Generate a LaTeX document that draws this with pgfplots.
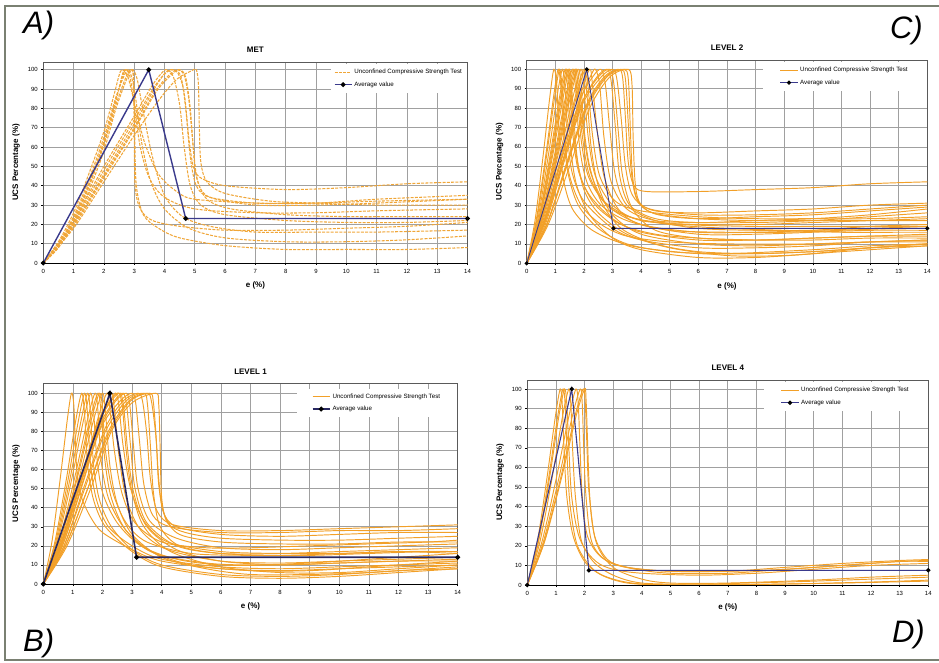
\documentclass[border=0pt]{standalone}
\usepackage{fontspec}
\setmainfont{Liberation Sans}
\usepackage{pgfplots}
\pgfplotsset{compat=1.18}
\definecolor{ucsorange}{HTML}{F2A028}
\definecolor{ucsdash}{HTML}{F0A638}
\definecolor{avgblue}{HTML}{3A3A8C}
\definecolor{gridgray}{HTML}{A0A0A0}
\definecolor{framegray}{HTML}{5A5A5A}
\definecolor{outerframe}{HTML}{7A8072}

\pgfplotsset{
  ucs/.style={
    scale only axis, anchor=south west,
    xmin=0, xmax=14, ymin=0,
    xtick={0,1,...,14}, ytick={0,10,...,100},
    xtick pos=left, ytick pos=left,
    tick align=outside, major tick length=2pt,
    tick style={black, line width=0.5pt},
    grid=major, major grid style={gridgray, line width=0.65pt},
    axis line style={framegray, line width=0.8pt},
    ticklabel style={font=\fontsize{6}{6.5}\selectfont},
    xticklabel style={yshift=-0.5pt},
    /pgf/number format/assume math mode=true,
    xlabel={e (\%)}, ylabel={UCS Percentage (\%)},
    label style={font=\bfseries\fontsize{8}{9}\selectfont},
    xlabel style={yshift=-2pt},
    ylabel style={yshift=1pt},
    title style={font=\bfseries\fontsize{8}{9}\selectfont, yshift=-0.5pt},
    legend style={draw=none, fill=white, font=\fontsize{6.2}{7}\selectfont,
      inner xsep=17pt, inner ysep=3pt, row sep=2.5pt,
      at={(0.999,0.99)}, anchor=north east},
    legend cell align=left,
    clip mode=individual,
  },
  ucsline/.style={ucsorange, line width=0.95pt, smooth, tension=0.5},
  ucsdashed/.style={ucsdash, line width=1.05pt, dash pattern=on 3pt off 1.3pt, smooth, tension=0.5},
  avgline/.style={avgblue, line width=1.4pt, mark=*, mark size=1.6pt,
    mark options={black, fill=black, solid}},
}

\begin{document}
\begin{tikzpicture}
\useasboundingbox (0pt,0pt) rectangle (939pt,662pt);
\draw[outerframe, line width=1.3pt] (939pt,656pt) -- (5pt,656pt) -- (5pt,2pt) -- (939pt,2pt);

% ---------------- A) MET ----------------
\begin{axis}[ucs, at={(43.3pt,399pt)}, width=424.2pt, height=201pt, ymax=104,
  title={MET}, legend style={inner xsep=3pt}]
\addplot[ucsdashed, legend image post style={ucsdash, line width=1.3pt}] coordinates {(0,0)(0.5,9)(1,22)(1.5,40)(2,62)(2.4,84)(2.6,97)(2.7,100)(2.85,97)(3.0,82)(3.2,60)(3.5,44)(4,34)(5,28)(7,26)(9,26)(11,27)(14,28)};
\addlegendentry{Unconfined Compressive Strength Test}
\addplot[ucsdashed, forget plot] coordinates {(0,0)(0.5,10)(1,24)(1.5,43)(2,65)(2.4,86)(2.7,98)(2.85,100)(2.97,97)(3.0,70)(3.03,40)(3.2,28)(3.6,22)(4.5,19)(6,17)(8,17)(10,18)(12,19)(14,21)};
\addplot[ucsdashed, forget plot] coordinates {(0,0)(0.5,8)(1,21)(1.5,39)(2,61)(2.4,82)(2.75,97)(2.9,100)(2.98,96)(3.02,65)(3.07,40)(3.3,25)(3.8,18)(4.5,13)(6,9)(8,7)(10,7)(12,7)(14,8)};
\addplot[ucsdashed, forget plot] coordinates {(0,0)(0.5,11)(1,26)(1.5,46)(2,68)(2.35,88)(2.5,97)(2.6,100)(2.8,96)(3.05,80)(3.35,62)(3.8,46)(4.4,37)(5,33)(7,31)(9,31)(11,32)(14,33)};
\addplot[ucsdashed, forget plot] coordinates {(0,0)(0.5,8)(1,20)(1.5,37)(2,58)(2.4,80)(2.8,97)(2.95,100)(3.1,95)(3.3,78)(3.6,55)(4,35)(4.6,24)(5.5,19)(7,16)(9,16)(11,16)(14,17)};
\addplot[ucsdashed, forget plot] coordinates {(0,0)(0.5,9)(1,23)(1.5,41)(2,63)(2.4,85)(2.65,98)(2.75,100)(2.9,97)(3.05,85)(3.25,62)(3.55,42)(4,28)(4.8,18)(6,13)(8,11)(10,11)(12,12)(14,14)};
\addplot[ucsdashed, forget plot] coordinates {(0,0)(1,20)(2,46)(3,72)(3.7,91)(4.0,98)(4.2,100)(4.45,98)(4.65,88)(4.8,65)(4.95,50)(5.2,44)(6,40)(8,38)(10,39)(12,41)(14,42)};
\addplot[ucsdashed, forget plot] coordinates {(0,0)(1,21)(2,48)(3,74)(3.7,92)(4.1,99)(4.35,100)(4.55,96)(4.7,80)(4.85,55)(5.05,40)(5.5,34)(7,31)(9,31)(11,33)(14,35)};
\addplot[ucsdashed, forget plot] coordinates {(0,0)(1,19)(2,44)(3,69)(3.7,88)(4.2,97)(4.5,100)(4.7,96)(4.85,80)(4.95,60)(5.1,42)(5.5,34)(7,30)(9,30)(11,31)(14,33)};
\addplot[ucsdashed, forget plot] coordinates {(0,0)(1,22)(2,50)(3,76)(3.6,92)(3.95,99)(4.1,100)(4.3,96)(4.5,82)(4.65,60)(4.85,40)(5.2,30)(6,25)(8,22)(10,21)(12,21)(14,22)};
\addplot[ucsdashed, forget plot] coordinates {(0,0)(1,18)(2,42)(3,66)(3.8,84)(4.4,95)(4.9,99.5)(5.05,100)(5.12,92)(5.15,70)(5.2,52)(5.4,42)(6,36)(7.5,32)(9,31)(11,30)(14,30)};
\addplot[ucsdashed, forget plot] coordinates {(0,0)(1,20)(2,45)(3,70)(3.7,89)(4.2,98)(4.45,100)(4.65,97)(4.8,85)(4.92,65)(5.05,45)(5.4,33)(6.2,28)(8,25)(10,24)(12,24)(14,24)};
\addplot[avgline] coordinates {(0,0)(3.48,100)(4.7,23)(14,23)};
\addlegendentry{Average value}
\draw[black, line width=0.9pt] (rel axis cs:0,0) -- (rel axis cs:1,0);
\end{axis}

% ---------------- C) LEVEL 2 ----------------
\begin{axis}[ucs, at={(526.7pt,398.7pt)}, width=400.6pt, height=203.3pt, ymax=104.8,
  title={LEVEL 2}]
\addplot[ucsline, legend image post style={ucsorange, line width=1.3pt}] coordinates {(0,0)(0.29,22)(0.57,55)(0.81,86)(0.95,100)(1.05,92)(1.15,62)(1.3,42)(1.6,28)(2.2,18)(3,12)(4,8)(6,5)(8,5)(10,6)(12,8)(14,9)};
\addlegendentry{Unconfined Compressive Strength Test}
\addplot[ucsline, forget plot] coordinates {(0,0)(0.33,22)(0.66,55)(0.94,86)(1.1,100)(1.2,90)(1.3,65)(1.45,46)(1.8,30)(2.5,18)(3.5,10)(5,6)(7,5)(10,7)(12,9)(14,10)};
\addplot[ucsline, forget plot] coordinates {(0,0)(0.35,22)(0.69,55)(0.98,86)(1.15,100)(1.25,88)(1.35,62)(1.5,45)(1.9,30)(2.6,20)(3.5,14)(5,11)(7,10)(10,10)(12,11)(14,11)};
\addplot[ucsline, forget plot] coordinates {(0,0)(0.38,22)(0.75,55)(1.06,86)(1.25,100)(1.35,88)(1.45,62)(1.6,46)(2,32)(3,18)(4,12)(6,8)(8,8)(10,9)(12,11)(14,12)};
\addplot[ucsline, forget plot] coordinates {(0,0)(0.41,22)(0.81,55)(1.15,86)(1.35,100)(1.45,86)(1.55,58)(1.75,40)(2.2,25)(3,13)(4,7)(6,3)(8,3)(10,5)(12,8)(14,10)};
\addplot[ucsline, forget plot] coordinates {(0,0)(0.42,22)(0.84,55)(1.19,86)(1.4,100)(1.5,90)(1.6,68)(1.8,48)(2.2,35)(3,23)(4,16)(6,12)(8,12)(10,13)(12,14)(14,15)};
\addplot[ucsline, forget plot] coordinates {(0,0)(0.44,22)(0.87,55)(1.23,86)(1.45,100)(1.55,88)(1.68,62)(1.9,44)(2.4,30)(3.3,20)(4.5,15)(6,13)(8,12)(10,12)(12,13)(14,13)};
\addplot[ucsline, forget plot] coordinates {(0,0)(0.45,22)(0.9,55)(1.28,86)(1.5,100)(1.6,85)(1.75,56)(2,38)(2.5,26)(3.5,15)(5,8)(7,4)(9,4)(11,6)(13,8)(14,9)};
\addplot[ucsline, forget plot] coordinates {(0,0)(0.48,22)(0.96,55)(1.36,86)(1.6,100)(1.72,88)(1.85,60)(2.1,42)(2.6,30)(3.5,22)(5,17)(7,16)(9,16)(11,17)(13,18)(14,18)};
\addplot[ucsline, forget plot] coordinates {(0,0)(0.5,22)(0.99,55)(1.4,86)(1.65,100)(1.75,90)(1.9,64)(2.15,45)(2.7,32)(3.6,24)(5,20)(7,18)(9,17)(11,16)(13,16)(14,16)};
\addplot[ucsline, forget plot] coordinates {(0,0)(0.51,22)(1.02,55)(1.45,86)(1.7,100)(1.8,90)(1.95,65)(2.2,45)(2.8,30)(4,20)(6,15)(8,15)(10,16)(12,17)(14,17)};
\addplot[ucsline, forget plot] coordinates {(0,0)(0.53,22)(1.05,55)(1.49,86)(1.75,100)(1.85,90)(2.0,66)(2.25,46)(2.8,30)(3.8,23)(5.5,20)(8,19)(10,19)(12,19)(14,19)};
\addplot[ucsline, forget plot] coordinates {(0,0)(0.54,22)(1.08,55)(1.53,86)(1.8,100)(1.9,92)(2.0,70)(2.2,50)(2.6,32)(3.3,18)(4.5,10)(6,6)(8,5)(10,6)(12,8)(14,10)};
\addplot[ucsline, forget plot] coordinates {(0,0)(0.57,22)(1.14,55)(1.62,86)(1.9,100)(2.0,90)(2.15,65)(2.4,45)(3,30)(4,22)(6,20)(8,20)(10,21)(12,22)(14,23)};
\addplot[ucsline, forget plot] coordinates {(0,0)(0.6,22)(1.2,55)(1.7,86)(2.0,100)(2.1,88)(2.25,60)(2.5,40)(3,25)(4,15)(6,10)(8,9)(10,10)(12,11)(14,12)};
\addplot[ucsline, forget plot] coordinates {(0,0)(0.62,22)(1.23,55)(1.74,86)(2.05,100)(2.15,90)(2.3,66)(2.55,45)(3.1,32)(4,27)(6,24)(8,23)(10,23)(12,23)(14,24)};
\addplot[ucsline, forget plot] coordinates {(0,0)(0.66,22)(1.32,55)(1.87,86)(2.2,100)(2.3,92)(2.45,70)(2.7,45)(3.2,28)(4,20)(6,16)(8,16)(10,17)(12,19)(14,20)};
\addplot[ucsline, forget plot] coordinates {(0,0)(0.65,22)(1.3,55)(1.9,85)(2.25,97)(2.4,100)(2.55,92)(2.7,65)(2.95,42)(3.5,28)(4.5,22)(6,21)(8,21)(10,22)(12,24)(14,26)};
\addplot[ucsline, forget plot] coordinates {(0,0)(0.62,22)(1.25,55)(1.85,84)(2.3,96)(2.6,100)(2.75,92)(2.9,70)(3.1,45)(3.5,30)(4.5,22)(6,18)(8,17)(10,17)(12,18)(14,19)};
\addplot[ucsline, forget plot] coordinates {(0,0)(0.65,22)(1.3,54)(1.95,83)(2.45,96)(2.8,100)(2.95,94)(3.1,70)(3.25,45)(3.6,30)(4.5,23)(6,21)(8,22)(10,23)(12,25)(14,28)};
\addplot[ucsline, forget plot] coordinates {(0,0)(0.6,20)(1.25,52)(1.9,82)(2.5,96)(2.9,100)(3.05,92)(3.2,68)(3.35,45)(3.7,28)(4.5,17)(6,13)(8,12)(10,13)(12,14)(14,14)};
\addplot[ucsline, forget plot] coordinates {(0,0)(0.65,20)(1.3,52)(1.95,82)(2.6,96)(3.0,100)(3.15,95)(3.3,75)(3.45,50)(3.7,35)(4.3,28)(6,25)(8,25)(10,26)(12,28)(14,30)};
\addplot[ucsline, forget plot] coordinates {(0,0)(0.7,20)(1.4,52)(2.1,82)(2.7,96)(3.2,100)(3.35,96)(3.45,75)(3.55,52)(3.75,40)(4.2,37)(6,37)(8,38)(10,39)(12,41)(14,42)};
\addplot[ucsline, forget plot] coordinates {(0,0)(0.7,20)(1.4,51)(2.1,81)(2.75,96)(3.3,100)(3.45,95)(3.55,72)(3.65,48)(3.85,33)(4.4,26)(6,23)(8,22)(10,22)(12,22)(14,22)};
\addplot[ucsline, forget plot] coordinates {(0,0)(0.7,20)(1.4,50)(2.1,80)(2.8,96)(3.4,100)(3.55,95)(3.62,70)(3.7,45)(3.9,32)(4.5,27)(6,26)(8,27)(10,28)(12,30)(14,31)};
\addplot[ucsline, forget plot] coordinates {(0,0)(0.75,20)(1.5,50)(2.2,80)(2.9,96)(3.55,100)(3.68,92)(3.72,65)(3.8,40)(4,30)(4.6,25)(6,23)(8,24)(10,25)(12,27)(14,29)};
\addplot[avgline, line width=0.9pt] coordinates {(0,0)(2.1,100)(3.03,18)(14,18)};
\addlegendentry{Average value}
\draw[black, line width=0.9pt] (rel axis cs:0,0) -- (rel axis cs:1,0);
\end{axis}

% ---------------- B) LEVEL 1 ----------------
\begin{axis}[ucs, at={(43.3pt,78pt)}, width=414.4pt, height=200.7pt, ymax=105.2,
  title={LEVEL 1}, legend style={inner xsep=15pt, at={(0.999,0.975)}}]
\addplot[ucsline, legend image post style={ucsorange, line width=1.3pt}] coordinates {(0,0)(0.29,22)(0.57,55)(0.81,86)(0.95,100)(1.03,94)(1.08,75)(1.15,56)(1.3,45)(1.6,35)(2,27)(3,18)(4,12)(6,8)(8,7)(10,8)(12,9)(14,10)};
\addlegendentry{Unconfined Compressive Strength Test}
\addplot[ucsline, forget plot] coordinates {(0,0)(0.39,22)(0.78,55)(1.1,86)(1.3,100)(1.4,88)(1.5,62)(1.7,44)(2.1,30)(3,17)(4,9)(6,4)(8,3)(10,4)(12,6)(14,8)};
\addplot[ucsline, forget plot] coordinates {(0,0)(0.42,22)(0.84,55)(1.19,86)(1.4,100)(1.5,88)(1.6,62)(1.8,44)(2.2,30)(3,20)(4,13)(6,9)(8,8)(10,9)(12,10)(14,11)};
\addplot[ucsline, forget plot] coordinates {(0,0)(0.45,22)(0.9,55)(1.28,86)(1.5,100)(1.6,88)(1.7,62)(1.9,44)(2.3,30)(3,18)(4,10)(6,5)(8,4)(10,5)(12,7)(14,8)};
\addplot[ucsline, forget plot] coordinates {(0,0)(0.48,22)(0.96,55)(1.36,86)(1.6,100)(1.7,90)(1.8,68)(2,48)(2.5,32)(3.3,20)(4.5,13)(6,10)(8,10)(10,11)(12,12)(14,13)};
\addplot[ucsline, forget plot] coordinates {(0,0)(0.53,22)(1.05,55)(1.49,86)(1.75,100)(1.85,90)(1.95,65)(2.2,45)(2.7,30)(3.5,18)(5,10)(7,7)(9,7)(11,9)(13,11)(14,12)};
\addplot[ucsline, forget plot] coordinates {(0,0)(0.56,22)(1.11,55)(1.57,86)(1.85,100)(1.95,90)(2.08,65)(2.3,45)(2.8,28)(3.8,16)(5.5,11)(7,10)(9,11)(11,13)(13,15)(14,16)};
\addplot[ucsline, forget plot] coordinates {(0,0)(0.57,22)(1.14,55)(1.62,86)(1.9,100)(2.0,92)(2.1,70)(2.35,48)(2.8,32)(3.5,22)(5,16)(7,15)(9,15)(11,16)(13,17)(14,17)};
\addplot[ucsline, forget plot] coordinates {(0,0)(0.6,22)(1.2,55)(1.7,86)(2.0,100)(2.1,90)(2.25,62)(2.5,42)(3,26)(4,14)(5.5,8)(7,5)(9,5)(11,6)(13,8)(14,9)};
\addplot[ucsline, forget plot] coordinates {(0,0)(0.65,22)(1.29,55)(1.83,86)(2.15,100)(2.25,92)(2.4,70)(2.65,48)(3.1,32)(4,22)(5.5,19)(7,19)(9,20)(11,21)(13,22)(14,23)};
\addplot[ucsline, forget plot] coordinates {(0,0)(0.69,22)(1.38,55)(1.96,86)(2.3,100)(2.4,92)(2.55,68)(2.8,45)(3.3,28)(4.2,18)(6,12)(8,11)(10,12)(12,13)(14,14)};
\addplot[ucsline, forget plot] coordinates {(0,0)(0.65,22)(1.3,55)(1.9,85)(2.3,97)(2.45,100)(2.55,94)(2.7,72)(2.95,50)(3.4,33)(4.2,22)(6,17)(8,16)(10,16)(12,17)(14,16)};
\addplot[ucsline, forget plot] coordinates {(0,0)(0.62,22)(1.25,55)(1.85,85)(2.3,97)(2.55,100)(2.67,93)(2.8,70)(3.0,48)(3.4,30)(4.3,17)(6,9)(8,6)(10,6)(12,8)(14,10)};
\addplot[ucsline, forget plot] coordinates {(0,0)(0.62,22)(1.25,55)(1.85,84)(2.3,96)(2.6,100)(2.72,92)(2.85,70)(3.05,48)(3.5,30)(4.5,18)(6,12)(8,10)(10,11)(12,12)(14,12)};
\addplot[ucsline, forget plot] coordinates {(0,0)(0.6,20)(1.25,53)(1.9,83)(2.4,96)(2.7,100)(2.82,93)(2.95,72)(3.1,50)(3.5,32)(4.5,20)(6,16)(8,16)(10,17)(12,18)(14,19)};
\addplot[ucsline, forget plot] coordinates {(0,0)(0.65,22)(1.3,54)(1.95,83)(2.45,96)(2.8,100)(2.92,94)(3.05,72)(3.2,50)(3.6,33)(4.5,24)(6,19)(8,18)(10,19)(12,20)(14,21)};
\addplot[ucsline, forget plot] coordinates {(0,0)(0.65,20)(1.3,52)(1.95,82)(2.6,96)(3.0,100)(3.12,95)(3.25,75)(3.4,52)(3.7,36)(4.3,30)(6,27)(8,27)(10,28)(12,28)(14,29)};
\addplot[ucsline, forget plot] coordinates {(0,0)(0.7,20)(1.4,52)(2.1,82)(2.7,96)(3.2,100)(3.35,96)(3.5,78)(3.62,55)(3.85,38)(4.4,31)(6,28)(8,28)(10,29)(12,30)(14,31)};
\addplot[ucsline, forget plot] coordinates {(0,0)(0.7,20)(1.4,50)(2.1,80)(2.8,96)(3.4,100)(3.52,94)(3.62,72)(3.72,48)(3.95,30)(4.6,20)(6,16)(8,15)(10,16)(12,17)(14,17)};
\addplot[ucsline, forget plot] coordinates {(0,0)(0.75,20)(1.5,50)(2.2,80)(2.9,96)(3.5,100)(3.65,96)(3.8,78)(3.9,55)(4.05,38)(4.5,30)(6,26)(8,25)(10,26)(12,27)(14,27)};
\addplot[ucsline, forget plot] coordinates {(0,0)(0.75,20)(1.5,50)(2.25,80)(2.95,96)(3.6,100)(3.72,95)(3.82,75)(3.9,52)(4.1,36)(4.6,26)(6,22)(8,21)(10,21)(12,22)(14,22)};
\addplot[ucsline, forget plot] coordinates {(0,0)(0.8,20)(1.6,50)(2.3,80)(3.0,95)(3.8,100)(3.9,94)(3.95,70)(4.0,45)(4.2,32)(4.8,27)(6,24)(8,23)(10,23)(12,24)(14,25)};
\addplot[avgline, avgblue!70!black, line width=1.6pt] coordinates {(0,0)(2.25,100)(3.15,14)(14,14)};
\addlegendentry{Average value}
\draw[black, line width=0.9pt] (rel axis cs:0,0) -- (rel axis cs:1,0);
\end{axis}

% ---------------- D) LEVEL 4 ----------------
\begin{axis}[ucs, at={(527.3pt,77pt)}, width=401pt, height=205pt, ymax=104.6,
  title={LEVEL 4}]
\addplot[ucsline, legend image post style={ucsorange, line width=1.3pt}] coordinates {(0,0)(0.35,22)(0.69,55)(0.98,86)(1.15,100)(1.22,92)(1.28,70)(1.38,45)(1.6,25)(2,12)(2.6,5)(3.5,1)(5,0)(8,0.3)(11,1)(14,2)};
\addlegendentry{Unconfined Compressive Strength Test}
\addplot[ucsline, forget plot] coordinates {(0,0)(0.38,22)(0.75,55)(1.06,86)(1.25,100)(1.33,90)(1.4,62)(1.5,40)(1.75,20)(2.3,8)(3,3)(4,0.5)(6,0)(9,0.5)(12,1.5)(14,2.5)};
\addplot[ucsline, forget plot] coordinates {(0,0)(0.39,22)(0.78,55)(1.1,86)(1.3,100)(1.38,92)(1.45,70)(1.55,45)(1.8,25)(2.3,12)(3,5)(4,1)(6,0.5)(9,1.5)(12,3)(14,4)};
\addplot[ucsline, forget plot] coordinates {(0,0)(0.44,22)(0.87,55)(1.23,86)(1.45,100)(1.52,92)(1.58,70)(1.68,45)(1.9,22)(2.4,12)(3,8)(4,6)(6,5)(8,6)(10,8)(12,10)(14,11)};
\addplot[ucsline, forget plot] coordinates {(0,0)(0.51,22)(1.02,55)(1.45,86)(1.7,100)(1.78,92)(1.84,70)(1.92,45)(2.1,25)(2.6,14)(3.5,9)(5,7)(7,7)(9,8)(11,10)(13,12)(14,12.5)};
\addplot[ucsline, forget plot] coordinates {(0,0)(0.56,22)(1.11,55)(1.57,86)(1.85,100)(1.92,92)(1.97,70)(2.05,45)(2.25,22)(2.8,12)(3.8,8)(5,6)(7,6)(9,8)(11,10)(13,12)(14,12)};
\addplot[ucsline, forget plot] coordinates {(0,0)(0.59,22)(1.17,55)(1.66,86)(1.95,100)(2.02,94)(2.08,72)(2.15,48)(2.4,22)(3,9)(4,3)(5,1)(7,1)(10,2.5)(12,4)(14,5)};
\addplot[ucsline, forget plot] coordinates {(0,0)(0.6,22)(1.2,55)(1.7,86)(2.0,100)(2.05,95)(2.1,75)(2.18,45)(2.35,25)(2.8,13)(3.5,9)(5,7)(7,7)(9,9)(11,11)(13,12.5)(14,13)};
\addplot[avgline, line width=1.1pt] coordinates {(0,0)(1.55,100)(2.15,7.5)(14,7.5)};
\addlegendentry{Average value}
\draw[black, line width=0.9pt] (rel axis cs:0,0) -- (rel axis cs:1,0);
\end{axis}

% panel letters
\node[anchor=base west, inner sep=0pt, font=\itshape\fontsize{31}{31}\selectfont] at (23pt,628pt) {A)};
\node[anchor=base east, inner sep=0pt, font=\itshape\fontsize{31}{31}\selectfont] at (923pt,623pt) {C)};
\node[anchor=base west, inner sep=0pt, font=\itshape\fontsize{31}{31}\selectfont] at (23pt,11pt) {B)};
\node[anchor=base east, inner sep=0pt, font=\itshape\fontsize{31}{31}\selectfont] at (925pt,20pt) {D)};
\end{tikzpicture}
\end{document}
